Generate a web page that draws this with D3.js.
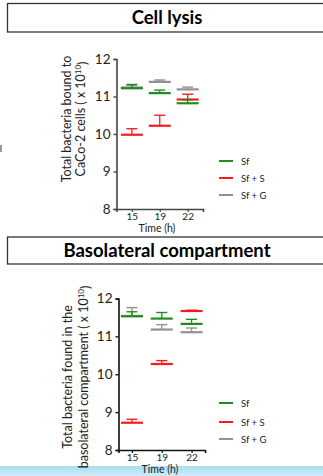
<!DOCTYPE html>
<html>
<head>
<meta charset="utf-8">
<script src="https://cdn.jsdelivr.net/npm/d3@7"></script>
<style>
  body { margin: 0; background: #fff; }
  svg { display: block; }
</style>
</head>
<body>
<svg id="chart" width="323" height="476"></svg>
<script>
// time points and groups
const times = [15, 19, 22];
const groups = ["Sf", "Sf + S", "Sf + G"];
const yTicks = [8, 9, 10, 11, 12];

// cell lysis: mean and upper error (x 10^10)
const lysisSf = [11.22, 11.09, 10.82];
const lysisSfErr = [0.10, 0.08, 0.09];
const lysisSfS = [9.98, 10.22, 10.92];
const lysisSfSErr = [0.16, 0.28, 0.14];
const lysisSfG = [11.24, 11.39, 11.19];
const lysisSfGErr = [0.06, 0.05, 0.06];

// basolateral compartment
const basoSf = [11.53, 11.47, 11.33];
const basoSfErr = [0.12, 0.16, 0.12];
const basoSfS = [8.72, 10.27, 11.67];
const basoSfSErr = [0.09, 0.09, 0.02];
const basoSfG = [11.54, 11.18, 11.11];
const basoSfGErr = [0.22, 0.13, 0.11];

const colors = { "Sf": "#1f8c1f", "Sf + S": "#ff1a1a", "Sf + G": "#919191" };
const font = "Lato, 'Open Sans', sans-serif";

const svg = d3.select("#chart");

// light blue strip at the bottom
const grad = svg.append("defs").append("linearGradient")
  .attr("id", "strip").attr("x1", 0).attr("x2", 0).attr("y1", 0).attr("y2", 1);
grad.append("stop").attr("offset", "0%").attr("stop-color", "#a9dcf0");
grad.append("stop").attr("offset", "100%").attr("stop-color", "#cdeef9");
svg.append("rect").attr("x", 0).attr("y", 466).attr("width", 323).attr("height", 10)
  .attr("fill", "url(#strip)");

// small stray mark on the left
svg.append("rect").attr("x", 0).attr("y", 145).attr("width", 2).attr("height", 7).attr("fill", "#999");

function panel(cfg) {
  // title box
  svg.append("rect")
    .attr("x", 7.5).attr("y", cfg.boxTop)
    .attr("width", 330).attr("height", cfg.boxH)
    .attr("fill", "none").attr("stroke", "#333").attr("stroke-width", 1.3);
  svg.append("text")
    .attr("x", 167).attr("y", cfg.boxTop + cfg.boxH / 2 + 6.3)
    .attr("text-anchor", "middle")
    .style("font-family", font)
    .style("font-weight", "bold").style("font-size", "18.5px")
    .text(cfg.title);

  const y = d3.scaleLinear().domain([8, 12]).range([cfg.y8, cfg.y12]);
  const x = d3.scalePoint().domain(times).range([cfg.x0, cfg.x1]).padding(cfg.pad);

  // y axis
  const ya = svg.append("g")
    .attr("transform", `translate(${cfg.x0},0)`)
    .call(d3.axisLeft(y).tickValues(yTicks).tickSize(3).tickPadding(3).tickFormat(d3.format("d")));
  ya.select(".domain").attr("stroke", cfg.axisColor).attr("stroke-width", 1.6);
  ya.selectAll(".tick line").attr("stroke", cfg.axisColor).attr("stroke-width", 1.4);
  ya.selectAll(".tick text")
    .style("font-family", font)
    .style("font-size", "13.5px").attr("fill", "#222");

  // x axis
  const xa = svg.append("g")
    .attr("transform", `translate(0,${cfg.y8})`)
    .call(d3.axisBottom(x).tickSize(3).tickPadding(1));
  xa.select(".domain").attr("stroke", cfg.axisColor).attr("stroke-width", 1.6);
  xa.selectAll(".tick line").attr("stroke", cfg.axisColor).attr("stroke-width", 1.2);
  xa.selectAll(".tick text")
    .style("font-family", font)
    .style("font-size", "10px").attr("fill", "#222");

  svg.append("text")
    .attr("x", cfg.timeX).attr("y", cfg.y8 + 23)
    .attr("text-anchor", "middle")
    .style("font-family", font).style("font-size", "10.5px")
    .attr("fill", "#222")
    .text("Time (h)");

  // y axis title, two lines
  const yt = svg.append("text")
    .attr("transform", `translate(${cfg.titleX},${cfg.titleY}) rotate(-90)`)
    .attr("text-anchor", "middle")
    .style("font-family", font)
    .style("font-size", cfg.titleSize).attr("fill", "#222");
  yt.append("tspan").attr("x", 0).attr("y", 0).text(cfg.line1);
  const l2 = yt.append("tspan").attr("x", 0).attr("y", cfg.lineGap);
  l2.append("tspan").text(cfg.line2);
  l2.append("tspan").attr("dy", "-0.45em").style("font-size", "8px").text("10");
  l2.append("tspan").attr("dy", "0.45em").text(")");

  // mean + upper error bar per group
  cfg.series.forEach(s => {
    const g = svg.append("g").attr("stroke", colors[s.name]);
    times.forEach((t, i) => {
      const cx = x(t), m = s.mean[i], top = m + s.err[i];
      g.append("line").attr("x1", cx).attr("x2", cx)
        .attr("y1", y(m)).attr("y2", y(top)).attr("stroke-width", 1.3);
      g.append("line").attr("x1", cx - 5.5).attr("x2", cx + 5.5)
        .attr("y1", y(top)).attr("y2", y(top)).attr("stroke-width", 1.4);
      g.append("line").attr("x1", cx - 11).attr("x2", cx + 11)
        .attr("y1", y(m)).attr("y2", y(m)).attr("stroke-width", 2.2);
    });
  });

  // legend
  groups.forEach((name, i) => {
    const ly = cfg.legendY[i];
    svg.append("line").attr("x1", 219).attr("x2", 233).attr("y1", ly).attr("y2", ly)
      .attr("stroke", colors[name]).attr("stroke-width", 2);
    svg.append("text").attr("x", 241).attr("y", ly + 3.5)
      .style("font-family", font).style("font-size", "9.5px")
      .attr("fill", "#222")
      .text(name);
  });
}

panel({
  title: "Cell lysis", boxTop: 3.5, boxH: 28.5,
  x0: 116.5, x1: 203, pad: 0.55, y8: 209, y12: 59, axisColor: "#444",
  timeX: 157,
  titleX: 70.5, titleY: 119, lineGap: 14.5, titleSize: "12.5px",
  line1: "Total bacteria bound to", line2: "CaCo-2 cells ( x 10",
  legendY: [161, 178, 195],
  series: [
    { name: "Sf + G", mean: lysisSfG, err: lysisSfGErr },
    { name: "Sf + S", mean: lysisSfS, err: lysisSfSErr },
    { name: "Sf", mean: lysisSf, err: lysisSfErr }
  ]
});

panel({
  title: "Basolateral compartment", boxTop: 237, boxH: 27,
  x0: 118.5, x1: 205, pad: 0.45, y8: 450, y12: 298.5, axisColor: "#111",
  timeX: 160,
  titleX: 71.5, titleY: 377, lineGap: 16, titleSize: "12.5px",
  line1: "Total bacteria found in the", line2: "basolateral compartment ( x 10",
  legendY: [403, 422, 439],
  series: [
    { name: "Sf + G", mean: basoSfG, err: basoSfGErr },
    { name: "Sf + S", mean: basoSfS, err: basoSfSErr },
    { name: "Sf", mean: basoSf, err: basoSfErr }
  ]
});
</script>
</body>
</html>
